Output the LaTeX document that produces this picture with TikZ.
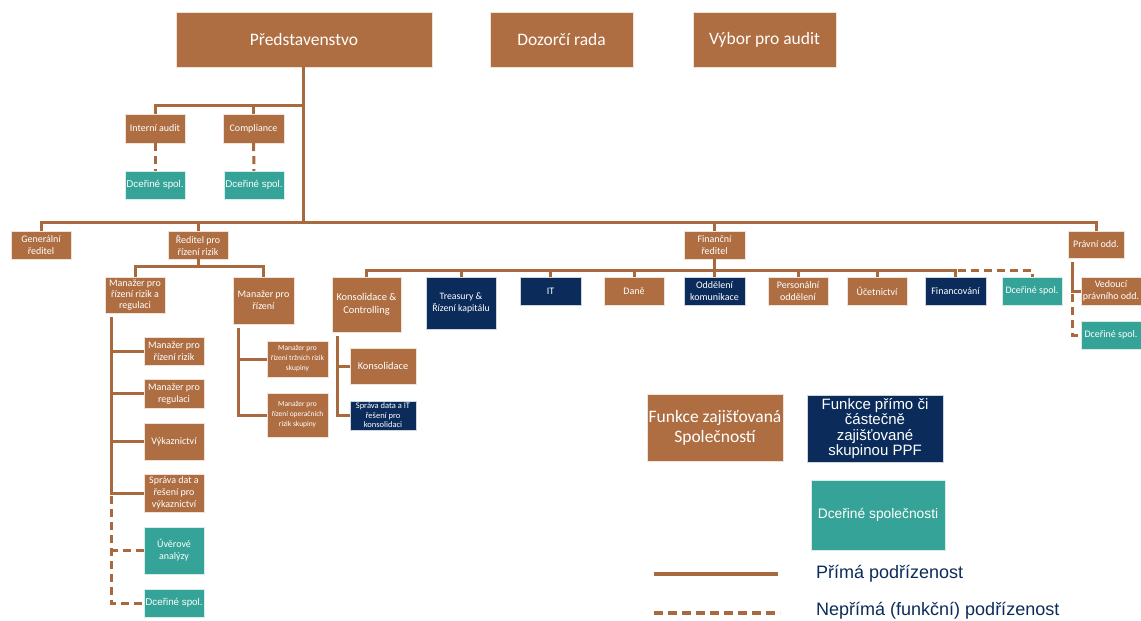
\documentclass[tikz,border=0pt]{standalone}
\usepackage{fontspec}
\setmainfont{Carlito}
\newfontfamily\arial{Liberation Sans}
\definecolor{ppfbrown}{HTML}{AE6E42}
\definecolor{ppfline}{HTML}{A8693E}
\definecolor{ppfnavy}{HTML}{0B2C5A}
\definecolor{ppfteal}{HTML}{35A397}
\tikzstyle{fun}=[rectangle, draw=white!80!ppfbrown, thin, fill=ppfbrown, text=white, align=center, inner sep=1pt, minimum width=60pt, minimum height=28pt, font=\fontsize{10}{12}\selectfont]
\tikzstyle{grp}=[fun, fill=ppfnavy, draw=white!80!ppfnavy]
\tikzstyle{sub}=[fun, fill=ppfteal, draw=white!80!ppfteal]
\tikzstyle{subar}=[sub, inner sep=0pt, font=\arial\fontsize{9.8}{11}\selectfont]
\tikzstyle{tiny}=[font=\fontsize{7.5}{10}\selectfont]
\tikzstyle{direct}=[draw=ppfline, line width=3pt]
\tikzstyle{indirect}=[direct, dash pattern=on 8pt off 5pt]
\tikzstyle{legtext}=[anchor=west, inner sep=0pt, text=ppfnavy, font=\arial\fontsize{18}{21}\selectfont]

\begin{document}
\begin{tikzpicture}[x=1pt,y=-1pt]
  \path[fill=white, use as bounding box] (0,0) rectangle (1141,621);
  % top level
  \node[fun, minimum width=256pt, minimum height=55pt, font=\fontsize{17.5}{20}\selectfont] (pred) at (304,39.5) {Představenstvo};
  \node[fun, minimum width=143pt, minimum height=55pt, font=\fontsize{17.5}{20}\selectfont] (dozor) at (561.5,39.5) {Dozorčí rada};
  \node[fun, minimum width=143pt, minimum height=55pt, font=\fontsize{17.5}{20}\selectfont] (vybor) at (764.5,39.5) {Výbor pro audit};
  \node[fun, minimum height=29pt] (interni) at (155,128.5) {Interní audit};
  \node[fun, minimum width=61pt, minimum height=29pt] (compl) at (253.5,128.5) {Compliance};
  \node[subar] (dsIA) at (155,185) {Dceřiné spol.};
  \node[subar] (dsC) at (254,185) {Dceřiné spol.};
  % second level
  \node[fun] (gen) at (41,245) {Generální\\ředitel};
  \node[fun] (rpr) at (198,245) {Ředitel pro\\řízení rizik};
  \node[fun, minimum width=61pt] (fin) at (714.5,245) {Finanční\\ředitel};
  \node[fun, minimum width=56pt, minimum height=27pt] (pravni) at (1096,244.5) {Právní odd.};
  % risk
  \node[fun, inner sep=0pt, minimum height=36pt, font=\fontsize{10}{11.3}\selectfont] (mrr) at (135,295) {Manažer pro\\řízení rizik a\\regulaci};
  \node[fun, minimum width=61pt, minimum height=47pt] (mpr) at (263.5,300.5) {Manažer pro\\řízení};
  \node[fun] (mrr1) at (174,351) {Manažer pro\\řízení rizik};
  \node[fun, minimum height=29pt] (mrr2) at (174,393.5) {Manažer pro\\regulaci};
  \node[fun, minimum height=37pt] (mrr3) at (174,441.5) {Výkaznictví};
  \node[fun, minimum height=38pt] (mrr4) at (174,493) {Správa dat a\\řešení pro\\výkaznictví};
  \node[sub, minimum height=47pt] (mrr5) at (174,550.5) {Úvěrové\\analýzy};
  \node[subar] (mrr6) at (174,603) {Dceřiné spol.};
  \node[fun, tiny, inner sep=0pt, minimum width=61pt, minimum height=36pt] (mpr1) at (297.5,359) {Manažer pro\\řízení tržních rizik\\skupiny};
  \node[fun, tiny, inner sep=0pt, minimum width=61pt, minimum height=44pt] (mpr2) at (297.5,415) {Manažer pro\\řízení operačních\\rizik skupiny};
  % finance
  \node[fun, minimum width=69pt, minimum height=55pt, font=\fontsize{10.4}{13}\selectfont] (kons) at (366.5,304.5) {Konsolidace \&\\Controlling};
  \node[grp, minimum width=70pt, minimum height=52pt, font=\fontsize{9.8}{12}\selectfont] (treas) at (461,303) {Treasury \&\\Řízení kapitálu};
  \node[grp, minimum width=61pt] (it) at (550.5,291) {IT};
  \node[fun] (dane) at (634,291) {Daně};
  \node[grp, minimum width=61pt] (komun) at (714.5,291) {Oddělení\\komunikace};
  \node[fun] (pers) at (798,291) {Personální\\oddělení};
  \node[fun] (ucet) at (877,291) {Účetnictví};
  \node[grp, minimum width=61pt] (financ) at (955.5,291) {Financování};
  \node[sub] (dsF) at (1032,291) {Dceřiné spol.};
  \node[fun, minimum width=66pt, minimum height=36pt, font=\fontsize{10.4}{12}\selectfont] (kons1) at (383,366) {Konsolidace};
  \node[grp, inner sep=0pt, minimum width=66pt, minimum height=29pt, font=\fontsize{8.5}{9.5}\selectfont] (kons2) at (383,415.5) {Správa data a IT\\řešení pro\\konsolidaci};
  % legal
  \node[fun, inner sep=0pt] (ved) at (1111,291) {Vedoucí\\právního odd.};
  \node[sub] (dsP) at (1111,335) {Dceřiné spol.};
  % legend
  \node[fun, inner sep=0pt, minimum width=136pt, minimum height=67pt, font=\fontsize{17.5}{20}\selectfont] (lgfun) at (715,427.5) {Funkce zajišťovaná\\Společností};
  \node[grp, inner sep=0pt, minimum width=136pt, minimum height=67pt, font=\arial\fontsize{15}{15.5}\selectfont] (lggrp) at (875,428.5) {Funkce přímo či\\částečně\\zajišťované\\skupinou PPF};
  \node[sub, minimum width=134pt, minimum height=70pt, font=\arial\fontsize{13.8}{16}\selectfont] (lgsub) at (878,515) {Dceřiné společnosti};
  \node[legtext] (lgdirect) at (816,574) {Přímá podřízenost};
  \node[legtext] (lgindirect) at (816,611) {Nepřímá (funkční) podřízenost};
  \coordinate (lgdA) at (654,574);
  \coordinate (lgdB) at (778,574);
  \coordinate (lgiA) at (654,613);
  \coordinate (lgiB) at (780,613);

  % connectors
  \coordinate (bus) at (303,222);
  \coordinate (ia) at (303,105);
  \draw[direct] (pred.south -| bus) -- (bus);
  \draw[direct] (interni.north) |- (ia);
  \draw[direct] (compl.north) -- (compl.north |- ia);
  \draw[indirect] (interni) -- (dsIA);
  \draw[indirect] (compl) -- (dsC);
  \draw[direct] (gen.north) |- (bus) -| (pravni.north);
  \foreach \n in {rpr,fin}
    \draw[direct] (\n.north) -- (\n.north |- bus);

  \coordinate (rb) at (198,266);
  \draw[direct] (rpr.south) -- (rb);
  \draw[direct] (mrr.north) |- (rb) -| (mpr.north);
  \coordinate (mrrtop) at (111,317);
  \draw[direct] (mrrtop) |- (mrr4.west);
  \foreach \n in {mrr1,mrr2,mrr3}
    \draw[direct] (\n.west) -- (\n.west -| mrrtop);
  \draw[indirect] (mrr4.west -| mrrtop) ++(0,3) |- (mrr6.west);
  \draw[indirect] (mrr5.west) -- (mrr5.west -| mrrtop);
  \coordinate (mprtop) at (238,328);
  \draw[direct] (mprtop) |- (mpr2.west);
  \draw[direct] (mpr1.west) -- (mpr1.west -| mprtop);

  \coordinate (fb) at (714.5,270);
  \draw[direct] (fin.south) -- (fb);
  \draw[direct] (kons.north) |- (fb) -| (financ.north);
  \foreach \n in {treas,it,dane,komun,pers,ucet}
    \draw[direct] (\n.north) -- (\n.north |- fb);
  \draw[indirect] (financ.north |- fb) ++(2,0) -| (dsF.north);
  \coordinate (konstop) at (337,336);
  \draw[direct] (konstop) |- (kons2.west);
  \draw[direct] (kons1.west) -- (kons1.west -| konstop);

  \coordinate (pravtop) at (1072,262);
  \draw[direct] (pravtop) |- (ved.west);
  \draw[indirect] (ved.west -| pravtop) ++(0,3) |- (dsP.west);

  \draw[direct, line width=4pt] (lgdA) -- (lgdB);
  \draw[indirect, line width=4pt, dash pattern=on 9pt off 5pt] (lgiA) -- (lgiB);
\end{tikzpicture}
\end{document}
